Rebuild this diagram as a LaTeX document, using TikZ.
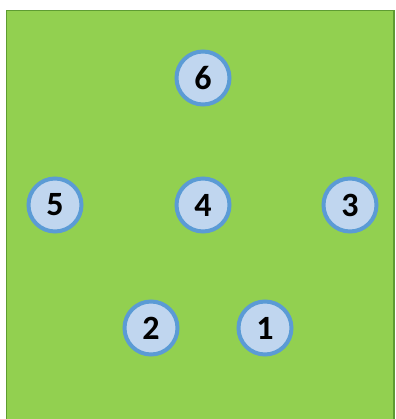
\documentclass[tikz,border=0pt]{standalone}
\usepackage{fontspec}
\setmainfont{Carlito}
\definecolor{grass}{HTML}{92D050}
\definecolor{grassedge}{HTML}{5E9C32}
\definecolor{spotfill}{HTML}{C0D6EF}
\definecolor{spotedge}{HTML}{5B9BD5}
\tikzset{spot/.style={circle,draw=spotedge,line width=4pt,fill=spotfill,
    minimum size=53pt,inner sep=0pt,font=\fontsize{34pt}{34pt}\selectfont\bfseries}}

\begin{document}
\begin{tikzpicture}[x=1pt,y=-1pt]
  \useasboundingbox (0,0) rectangle (395,419);
  \fill[white] (0,0) rectangle (395,419);
  \draw[grassedge,fill=grass,line width=1.2pt] (6.5,10.5) rectangle (394,425);
  \node[spot] (n6) at (203,78) {6};
  \node[spot] (n5) at (55,205) {5};
  \node[spot] (n4) at (203,205) {4};
  \node[spot] (n3) at (350,205) {3};
  \node[spot] (n2) at (151,328) {2};
  \node[spot] (n1) at (265,328) {1};
\end{tikzpicture}
\end{document}
